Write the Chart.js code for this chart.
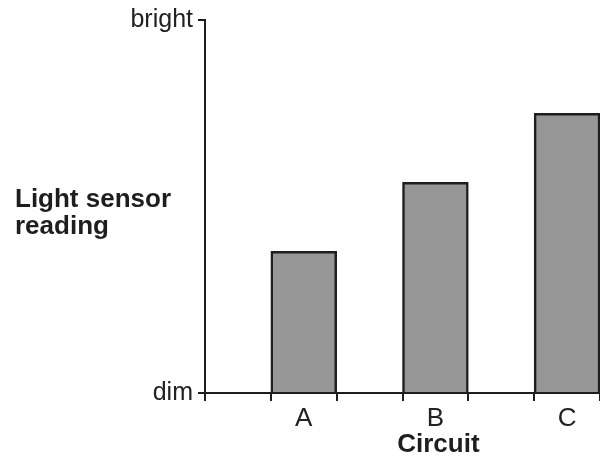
<!DOCTYPE html>
<html>
<head>
<meta charset="utf-8">
<script src="https://cdn.jsdelivr.net/npm/chart.js@4/dist/chart.umd.min.js"></script>
<style>
  html, body { margin: 0; padding: 0; background: #fff; }
  #chart { display: block; }
</style>
</head>
<body>
<canvas id="chart" width="600" height="456"></canvas>
<script>
var circuits = ['A', 'B', 'C'];
var readings = [38, 56.5, 75];
var yTickLabels = { 0: 'dim', 100: 'bright' };
var yTitleLines = ['Light sensor', 'reading'];
var xTitle = 'Circuit';

// each circuit sits in every second slot, with an empty slot before it
var slotLabels = [];
var slotValues = [];
circuits.forEach(function (c, i) {
  slotLabels.push('');
  slotValues.push(null);
  slotLabels.push(c);
  slotValues.push(readings[i]);
});

var ink = '#1e1e1e';
var boldFont = 'bold 26px "Liberation Sans", Arial, sans-serif';

// axis titles: the y one is horizontal, the x one sits under the middle circuit
var axisTitles = {
  id: 'axisTitles',
  afterDraw: function (chart) {
    var ctx = chart.ctx;
    var area = chart.chartArea;
    var mid = (area.top + area.bottom) / 2;
    ctx.save();
    ctx.fillStyle = ink;
    ctx.font = boldFont;
    ctx.textBaseline = 'alphabetic';
    ctx.textAlign = 'left';
    yTitleLines.forEach(function (line, i) {
      ctx.fillText(line, 15, mid + i * 27);
    });
    ctx.textAlign = 'center';
    var x = chart.scales.x.getPixelForValue(Math.floor(slotLabels.length / 2)) + 3;
    ctx.fillText(xTitle, x, area.bottom + 59);
    ctx.restore();
  }
};

new Chart(document.getElementById('chart').getContext('2d'), {
  type: 'bar',
  data: {
    labels: slotLabels,
    datasets: [{
      data: slotValues,
      backgroundColor: '#969696',
      borderColor: ink,
      borderWidth: 2.5,
      barPercentage: 1,
      categoryPercentage: 1
    }]
  },
  options: {
    responsive: false,
    animation: false,
    layout: { padding: { top: 20, right: 0, left: 0, bottom: 0 } },
    plugins: {
      legend: { display: false },
      tooltip: { enabled: false }
    },
    scales: {
      x: {
        offset: true,
        grid: {
          offset: true,
          drawOnChartArea: false,
          color: ink,
          lineWidth: 2,
          tickLength: 8
        },
        border: { color: ink, width: 2 },
        ticks: {
          color: '#222',
          padding: 2,
          maxRotation: 0,
          autoSkip: false,
          font: { family: '"Liberation Sans", Arial, sans-serif', size: 26 }
        },
        afterFit: function (s) { s.height = 63; }
      },
      y: {
        min: 0,
        max: 100,
        grid: {
          drawOnChartArea: false,
          color: ink,
          lineWidth: 2,
          tickLength: 7
        },
        border: { color: ink, width: 2 },
        ticks: {
          stepSize: 100,
          color: '#222',
          padding: 5,
          font: { family: '"Liberation Sans", Arial, sans-serif', size: 25 },
          callback: function (v) { return yTickLabels[v] || ''; }
        },
        afterFit: function (s) { s.width = 205; }
      }
    }
  },
  plugins: [axisTitles]
});
</script>
</body>
</html>
